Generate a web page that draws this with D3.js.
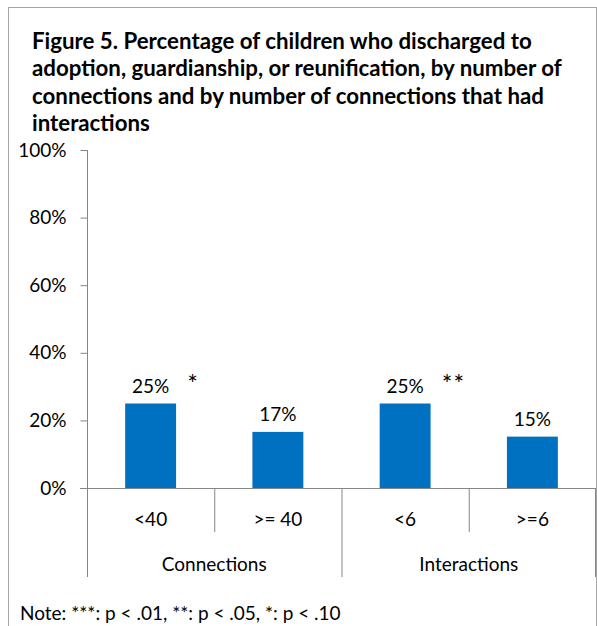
<!DOCTYPE html>
<html>
<head>
<meta charset="utf-8">
<script src="https://cdn.jsdelivr.net/npm/d3@7"></script>
<style>
  html, body { margin: 0; padding: 0; background: #fff; }
  svg { display: block; }
  text { font-family: Lato, "Open Sans", sans-serif; fill: #000; }
</style>
</head>
<body>
<svg id="chart" width="597" height="626"></svg>
<script>
// ---- data ----
const titleLines = [
  "Figure 5. Percentage of children who discharged to",
  "adoption, guardianship, or reunification, by number of",
  "connections and by number of connections that had",
  "interactions"
];
const categories = ["<40", ">= 40", "<6", ">=6"];
const groups = ["Connections", "Interactions"];
const groupOf = ["Connections", "Connections", "Interactions", "Interactions"];
const values = [0.25, 0.166, 0.25, 0.152];
const significance = ["*", "", "**", ""];
const yTicks = [0, 0.2, 0.4, 0.6, 0.8, 1.0];
const noteText = "Note: ***: p < .01, **: p < .05, *: p < .10";

// ---- layout ----
const svg = d3.select("#chart");
const plot = { left: 87, right: 596, top: 150, bottom: 488 };
const axisColor = "#868686";
const barColor = "#0070C0";

// outer frame
svg.append("rect")
  .attr("x", 8.5).attr("y", 7.5)
  .attr("width", 588).attr("height", 640)
  .attr("fill", "none").attr("stroke", "#a6a6a6").attr("stroke-width", 1);

// title
const titleText = svg.append("g").selectAll("text").data(titleLines).join("text")
  .attr("x", 32)
  .attr("y", (d, i) => 48.5 + i * 27.5)
  .style("font-weight", "bold")
  .style("font-size", "21px")
  .text(d => d);
// fit title line 2 to ~530px width
const w2 = titleText.nodes()[1].getComputedTextLength();
titleText.style("font-size", (21 * 530 / w2) + "px");

// scales
const y = d3.scaleLinear().domain([0, 1]).range([plot.bottom, plot.top]);
const xCat = d3.scaleBand().domain(d3.range(categories.length))
  .range([plot.left, plot.right]).padding(0);
const xBar = d3.scaleBand().domain(d3.range(categories.length))
  .range([plot.left, plot.right]).paddingInner(0.6).paddingOuter(0.3);

// y axis
const yAxis = svg.append("g")
  .attr("transform", `translate(${plot.left + 0.5},0)`)
  .call(d3.axisLeft(y).tickValues(yTicks).tickFormat(d3.format(".0%"))
    .tickSize(7).tickPadding(14));
yAxis.select(".domain").remove();
yAxis.selectAll(".tick line").attr("stroke", axisColor);
yAxis.selectAll(".tick text")
  .style("font-family", "Lato, sans-serif")
  .style("font-size", "19px").attr("fill", "#000");
svg.append("line")
  .attr("x1", plot.left + 0.5).attr("x2", plot.left + 0.5)
  .attr("y1", plot.top).attr("y2", 577)
  .attr("stroke", axisColor);

// bars
svg.selectAll("rect.bar").data(values).join("rect")
  .attr("class", "bar")
  .attr("x", (d, i) => xBar(i))
  .attr("width", xBar.bandwidth())
  .attr("y", d => y(d))
  .attr("height", d => y(0) - y(d))
  .attr("fill", barColor);

// x axis line
svg.append("line")
  .attr("x1", plot.left - 7).attr("x2", plot.right)
  .attr("y1", plot.bottom + 0.5).attr("y2", plot.bottom + 0.5)
  .attr("stroke", axisColor);

// category separators
categories.forEach((c, i) => {
  if (i === 0) return;
  const xb = xCat(i) + 0.5;
  const groupBoundary = groupOf[i] !== groupOf[i - 1];
  svg.append("line")
    .attr("x1", xb).attr("x2", xb)
    .attr("y1", plot.bottom).attr("y2", groupBoundary ? 577 : 532)
    .attr("stroke", axisColor);
});
svg.append("line")
  .attr("x1", plot.right - 0.5).attr("x2", plot.right - 0.5)
  .attr("y1", plot.bottom).attr("y2", 577)
  .attr("stroke", axisColor);

// category labels
svg.selectAll("text.cat").data(categories).join("text")
  .attr("class", "cat")
  .attr("x", (d, i) => xCat(i) + xCat.bandwidth() / 2)
  .attr("y", 526)
  .attr("text-anchor", "middle")
  .style("font-size", "19px")
  .text(d => d);

// group labels
groups.forEach(g => {
  const idx = d3.range(categories.length).filter(i => groupOf[i] === g);
  const x0 = xCat(idx[0]);
  const x1 = xCat(idx[idx.length - 1]) + xCat.bandwidth();
  svg.append("text")
    .attr("x", (x0 + x1) / 2)
    .attr("y", 571)
    .attr("text-anchor", "middle")
    .style("font-size", "19px")
    .text(g);
});

// value labels
const fmt = d3.format(".0%");
values.forEach((v, i) => {
  const cx = xBar(i) + xBar.bandwidth() / 2;
  const t = svg.append("text")
    .attr("x", cx)
    .attr("y", y(v) - 11)
    .attr("text-anchor", "middle")
    .style("font-size", "19px")
    .text(fmt(v));
  if (significance[i]) {
    const tw = t.node().getComputedTextLength();
    svg.append("text")
      .attr("x", cx + tw / 2 + 18)
      .attr("y", y(v) - 11)
      .attr("fill", "#000")
      .style("font-size", "25px")
      .style("letter-spacing", "1px")
      .text(significance[i]);
  }
});

// note
svg.append("text")
  .attr("x", 20).attr("y", 620)
  .style("font-size", "19px")
  .text(noteText);
</script>
</body>
</html>
